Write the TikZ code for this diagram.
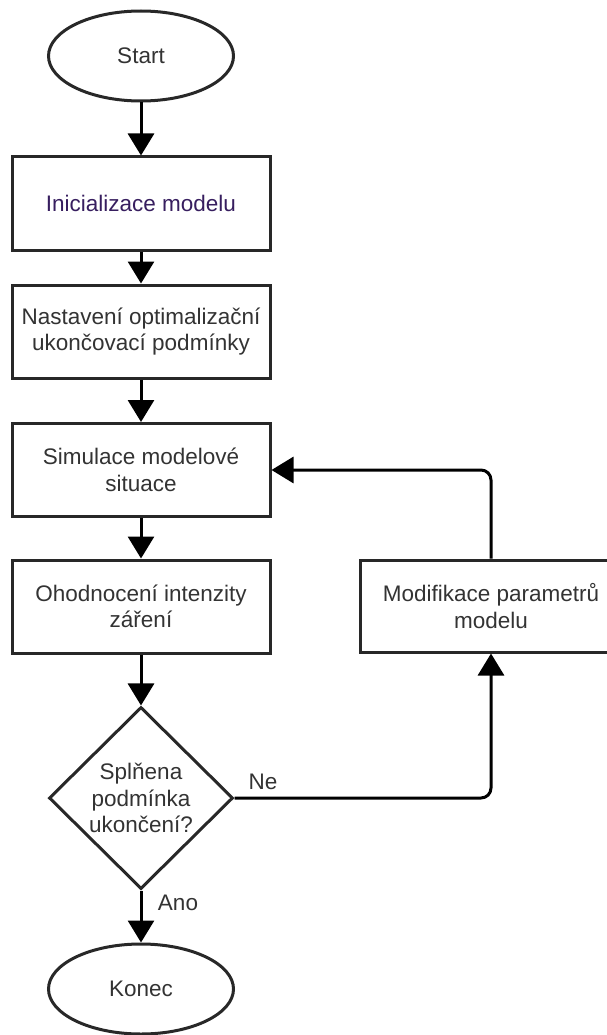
\documentclass[tikz,border=0pt]{standalone}
\usepackage{fontspec}
\setmainfont{Liberation Sans}
\usepackage{tikz}
\usetikzlibrary{arrows.meta,shapes.geometric}
\definecolor{flowtext}{RGB}{51,51,51}
\definecolor{flowline}{RGB}{40,40,40}
\definecolor{flowink}{RGB}{55,30,95}

\begin{document}
\begin{tikzpicture}[x=1pt, y=-1pt, line width=3pt,
  base/.style={draw=flowline, fill=white, align=center, text=flowtext, inner sep=0pt, font=\fontsize{22.5}{26.5}\selectfont},
  term/.style={base, ellipse, minimum width=185pt, minimum height=90pt},
  proc/.style={base, rectangle, minimum width=258pt, minimum height=93pt},
  cond/.style={base, diamond, aspect=1, minimum width=184pt, minimum height=182pt},
  lbl/.style={text=flowtext, inner sep=0pt, font=\fontsize{22.5}{26.5}\selectfont},
  flow/.style={-{Triangle[width=26pt,length=22pt]}, line width=3pt, black}]
  \useasboundingbox (0,0) rectangle (607,1035);
  \clip (0,0) rectangle (607,1035);
  % main column
  \node[term] (start) at (141,56) {Start};
  \node[proc, text=flowink] (init) at (141,203.5) {Inicializace modelu};
  \node[proc] (setup) at (141,331.5) {Nastavení optimalizační\\ukončovací podmínky};
  \node[proc] (sim) at (141,470) {Simulace modelové\\situace};
  \node[proc] (eval) at (141,606.5) {Ohodnocení intenzity\\záření};
  \node[cond] (check) at (141,798) {Splňena\\podmínka\\ukončení?};
  \node[term] (stop) at (141,989) {Konec};
  % side branch, runs past the right edge
  \node[proc, minimum width=262pt, minimum height=92pt] (modif) at (491,606) {Modifikace parametrů\\modelu};
  \node[lbl] (no) at (263,782) {Ne};
  \node[lbl] (yes) at (178,903) {Ano};
  \draw[flow] (start) -- (init);
  \draw[flow] (init) -- (setup);
  \draw[flow] (setup) -- (sim);
  \draw[flow] (sim) -- (eval);
  \draw[flow] (eval) -- (check);
  \draw[flow] (check) -- (stop);
  \draw[flow, rounded corners=10pt] (check.east) -| (modif.south);
  \draw[flow, rounded corners=10pt] (modif.north) |- (sim.east);
\end{tikzpicture}
\end{document}
